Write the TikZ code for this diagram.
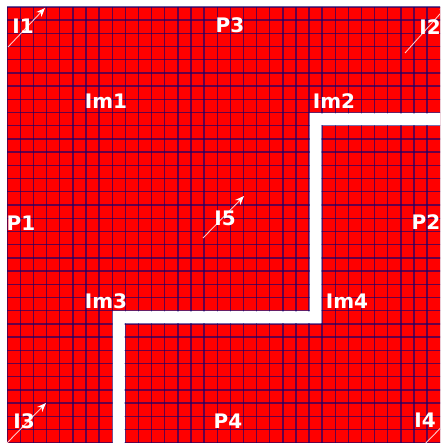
\documentclass[tikz,border=0pt]{standalone}
\usepackage{fontspec}
\setmainfont{DejaVu Sans}
\usetikzlibrary{arrows.meta}
\definecolor{gridred}{RGB}{255,0,0}
\definecolor{gridnavy}{RGB}{20,0,110}
\definecolor{arrowpink}{RGB}{255,200,200}
\tikzset{
  lbl/.style={text=white, font=\fontsize{20}{20}\selectfont\bfseries, inner sep=0pt, anchor=center},
  gridln/.style={draw=gridnavy, draw opacity=0.65, line width=1.4pt},
  flowarrow/.style={draw=arrowpink, line width=0.9pt, -{Stealth[length=9pt,width=7pt,color=white,fill=white]}},
}
\begin{document}
\begin{tikzpicture}[x=1pt,y=-1pt]
\useasboundingbox (0,0) rectangle (440,443);
\clip (0,0) rectangle (440,443);
% red field
\fill[gridred] (7.3,7) rectangle (441,444);
% wall (white)
\fill[white] (441,112.6) -- (309.06,112.6) -- (309.06,310.6) -- (112.26,310.6) -- (112.26,444)
  -- (125.38,444) -- (125.38,323.8) -- (322.18,323.8) -- (322.18,125.8) -- (441,125.8) -- cycle;
% grid
\foreach \k in {0,...,33} {
  \draw[gridln] ({7.3+13.12*\k},7) -- ({7.3+13.12*\k},444);
  \draw[gridln] (7.3,{7+13.2*\k}) -- (441,{7+13.2*\k});
}
% wall interior covers inner grid lines
\fill[white] (441,113.3) -- (309.76,113.3) -- (309.76,311.3) -- (112.96,311.3) -- (112.96,444)
  -- (124.68,444) -- (124.68,323.1) -- (321.48,323.1) -- (321.48,125.1) -- (441,125.1) -- cycle;
% arrows
\coordinate (a1s) at (8,47);    \coordinate (a1e) at (45,8);
\coordinate (a2s) at (405,53);  \coordinate (a2e) at (448,5);
\coordinate (a5s) at (203,238); \coordinate (a5e) at (244,196);
\coordinate (a3s) at (7,443);   \coordinate (a3e) at (46,403);
\coordinate (a4s) at (421,448); \coordinate (a4e) at (459,409);
\draw[flowarrow] (a1s) -- (a1e);
\draw[flowarrow] (a2s) -- (a2e);
\draw[flowarrow] (a5s) -- (a5e);
\draw[flowarrow] (a3s) -- (a3e);
\draw[flowarrow] (a4s) -- (a4e);
% labels
\node[lbl] (I1) at (23,26) {I1};
\node[lbl] (P3) at (230,25) {P3};
\node[lbl] (I2) at (430,27) {I2};
\node[lbl] (Im1) at (106,101) {Im1};
\node[lbl] (Im2) at (334,101) {Im2};
\node[lbl] (P1) at (21,223) {P1};
\node[lbl] (I5) at (225,218) {I5};
\node[lbl] (P2) at (426,222) {P2};
\node[lbl] (Im3) at (106,301) {Im3};
\node[lbl] (Im4) at (347,301) {Im4};
\node[lbl] (I3) at (24,421) {I3};
\node[lbl] (P4) at (228,421) {P4};
\node[lbl] (I4) at (425,420) {I4};
\end{tikzpicture}
\end{document}
